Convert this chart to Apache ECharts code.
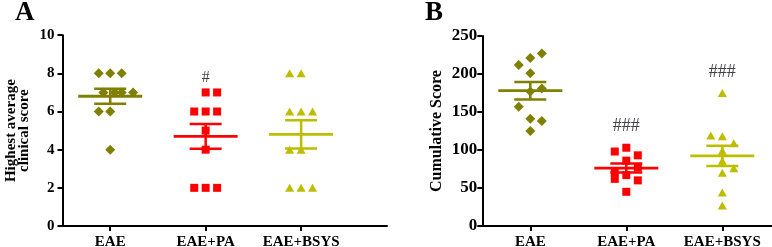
<!DOCTYPE html>
<html>
<head>
<meta charset="utf-8">
<script src="https://cdn.jsdelivr.net/npm/echarts@6/dist/echarts.min.js"></script>
<style>
html,body{margin:0;padding:0;background:#fff;}
#c{width:772px;height:247px;}
</style>
</head>
<body>
<div id="c"></div>
<script>
// ---- data ----
const categories = ['EAE', 'EAE+PA', 'EAE+BSYS'];

// Panel A: highest average clinical score (one value per animal)
const clinA_EAE  = [8, 8, 8, 7, 7, 7, 7, 6, 6, 4];
const clinA_PA   = [7, 7, 6, 6, 6, 5, 4, 2, 2, 2];
const clinA_BSYS = [8, 8, 6, 6, 6, 4, 4, 2, 2, 2];
// scatter column slot of each animal (dot-plot spreading)
const slotA_EAE  = [-1, 0, 1, -0.6, 0.4, 1, 2, -1, 0, 0];
const slotA_PA   = [0, 1, -1, 0, 1, 0, 0, -1, 0, 1];
const slotA_BSYS = [-1, 0, -1, 0, 1, -1, 0, -1, 0, 1];

// Panel B: cumulative score
const cumB_EAE  = [227, 221, 212, 201, 181, 177, 157, 141, 138, 125];
const cumB_PA   = [103, 98, 93, 86, 77, 71, 67, 62, 60, 45];
const cumB_BSYS = [175, 119, 118, 109, 99, 86, 76, 70, 44, 27];
const slotB_EAE  = [1, 0, -1, 0, 1, 0, -1, 0, 1, 0];
const slotB_PA   = [0, -1, 1, 0, 1, -1, 0, -1, 1, 0];
const slotB_BSYS = [0, -1, 0, 1, 0, 0, 1, 0, 0, 0];

const sigA = ['', '#', ''];
const sigB = ['', '###', '###'];

const yTicksA = [0, 2, 4, 6, 8, 10];
const yTicksB = [0, 50, 100, 150, 200, 250];

// ---- styling ----
const colors = ['#808000', '#ff0000', '#bdbd00'];
const symbols = ['diamond', 'rect', 'triangle'];
const symSizes = [[10, 10], [8, 8], [9, 8]];
const serif = '"Liberation Serif", "Times New Roman", serif';
const SLOT = 0.12;

function mean(a) { return a.reduce((s, v) => s + v, 0) / a.length; }
function sem(a) {
  const m = mean(a);
  const v = a.reduce((s, x) => s + (x - m) * (x - m), 0) / (a.length - 1);
  return Math.sqrt(v) / Math.sqrt(a.length);
}

const groupsA = [[clinA_EAE, slotA_EAE], [clinA_PA, slotA_PA], [clinA_BSYS, slotA_BSYS]];
const groupsB = [[cumB_EAE, slotB_EAE], [cumB_PA, slotB_PA], [cumB_BSYS, slotB_BSYS]];

const series = [];
function addPanel(groups, sig, idx, labelDist, sigSize) {
  groups.forEach((g, i) => {
    const vals = g[0], slots = g[1];
    series.push({
      type: 'scatter', xAxisIndex: idx, yAxisIndex: idx,
      symbol: symbols[i], symbolSize: symSizes[i],
      itemStyle: { color: colors[i], opacity: 1 },
      data: vals.map((v, k) => [i + 1 + slots[k] * SLOT, v]),
      z: 2, silent: true
    });
  });
  series.push({
    type: 'custom', xAxisIndex: idx, yAxisIndex: idx, z: 3, silent: true,
    data: groups.map((g, i) => [i + 1, mean(g[0]), sem(g[0]), i]),
    renderItem: function (params, api) {
      const c = api.coord([api.value(0), api.value(1)]);
      const hi = api.coord([api.value(0), api.value(1) + api.value(2)]);
      const lo = api.coord([api.value(0), api.value(1) - api.value(2)]);
      const col = colors[api.value(3)];
      const st = { stroke: col, lineWidth: 2.5 };
      return {
        type: 'group', children: [
          { type: 'line', shape: { x1: c[0] - 32, y1: c[1], x2: c[0] + 32, y2: c[1] }, style: { stroke: col, lineWidth: 2.8 } },
          { type: 'line', shape: { x1: c[0], y1: hi[1], x2: c[0], y2: lo[1] }, style: st },
          { type: 'line', shape: { x1: c[0] - 16, y1: hi[1], x2: c[0] + 16, y2: hi[1] }, style: st },
          { type: 'line', shape: { x1: c[0] - 16, y1: lo[1], x2: c[0] + 16, y2: lo[1] }, style: st }
        ]
      };
    }
  });
  series.push({
    type: 'scatter', xAxisIndex: idx, yAxisIndex: idx, symbolSize: 0, silent: true, z: 4,
    data: groups.map((g, i) => ({ value: [i + 1, Math.max.apply(null, g[0])], name: sig[i] }))
      .filter(d => d.name !== ''),
    label: {
      show: true, position: 'top', distance: labelDist,
      formatter: p => p.name,
      fontFamily: serif, fontSize: sigSize, color: '#111118'
    }
  });
}
addPanel(groupsA, sigA, 0, 7, 16);
addPanel(groupsB, sigB, 1, 12, 18);

function xAxis(idx, max) {
  return {
    type: 'value', gridIndex: idx, min: 0.5, max: max,
    splitLine: { show: false },
    axisLine: { show: true, onZero: false, lineStyle: { color: '#000', width: 2 } },
    axisTick: { show: true, customValues: [1, 2, 3], length: 5, lineStyle: { color: '#000', width: 2 } },
    axisLabel: {
      customValues: [1, 2, 3], margin: 9,
      formatter: v => categories[Math.round(v) - 1],
      fontFamily: serif, fontWeight: 'bold', fontSize: 15, color: '#000'
    }
  };
}
function yAxis(idx, ticks, name, gap, nameSize, tickSize, margin, lh) {
  return {
    type: 'value', gridIndex: idx, min: ticks[0], max: ticks[ticks.length - 1],
    interval: ticks[1] - ticks[0],
    splitLine: { show: false },
    axisLine: { show: true, lineStyle: { color: '#000', width: 2 } },
    axisTick: { show: true, length: 5, lineStyle: { color: '#000', width: 2 } },
    axisLabel: { margin: margin, fontFamily: serif, fontWeight: 'bold', fontSize: tickSize, color: '#000' },
    name: name, nameLocation: 'middle', nameGap: gap, nameRotate: 90,
    nameTextStyle: { fontFamily: serif, fontWeight: 'bold', fontSize: nameSize, color: '#000', lineHeight: lh }
  };
}

const chart = echarts.init(document.getElementById('c'), null, { renderer: 'canvas' });
chart.setOption({
  animation: false,
  backgroundColor: '#fff',
  grid: [
    { left: 62.5, top: 35.2, width: 324.5, height: 190.8, outerBoundsMode: 'none', containLabel: false },
    { left: 482.3, top: 36, width: 300, height: 190, outerBoundsMode: 'none', containLabel: false }
  ],
  xAxis: [xAxis(0, 3.9), xAxis(1, 3.625)],
  yAxis: [
    yAxis(0, yTicksA, 'Highest average\nclinical score', 32, 15, 15, 8, 13),
    yAxis(1, yTicksB, 'Cumulative Score', 36, 16, 17, 5, 18)
  ],
  graphic: [
    { type: 'text', left: 15, top: 0, style: { text: 'A', font: 'bold 27px ' + serif, fill: '#000' } },
    { type: 'text', left: 425, top: 0, style: { text: 'B', font: 'bold 27px ' + serif, fill: '#000' } }
  ],
  series: series
});
</script>
</body>
</html>
